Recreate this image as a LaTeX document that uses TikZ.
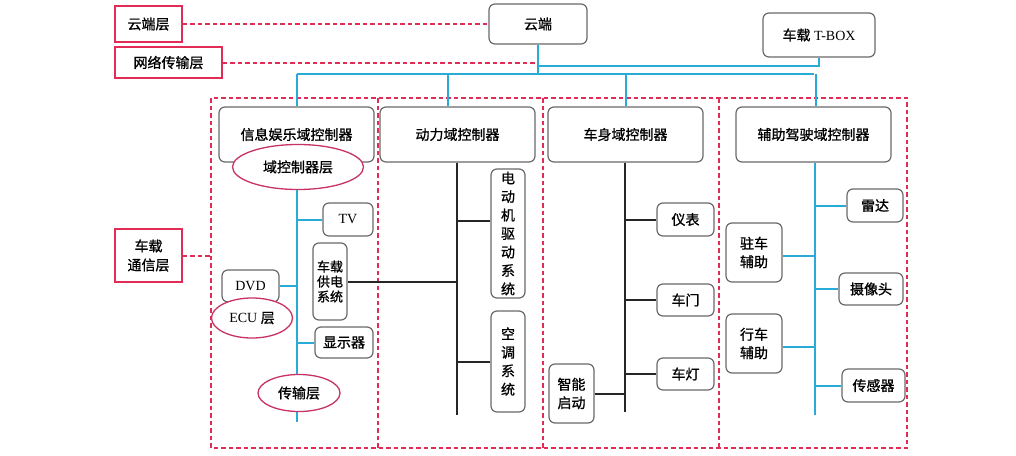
\documentclass[tikz,border=0pt]{standalone}
\usepackage{fontspec}
\setmainfont{Liberation Serif}
\newfontfamily\cjk[FakeBold=1]{Noto Sans CJK SC}
\usepackage{tikz}
\usetikzlibrary{positioning,shapes.geometric}
\definecolor{lineblue}{RGB}{40,172,215}
\definecolor{dashred}{RGB}{225,45,85}
\definecolor{ellred}{RGB}{200,50,100}
\definecolor{boxgray}{RGB}{105,105,105}

\begin{document}
\begin{tikzpicture}[x=1pt,y=-1pt,
    gbox/.style={draw=boxgray,line width=1.2pt,rounded corners=6pt,fill=white,inner sep=0pt,
        align=center,font=\cjk\fontsize{14}{18.5}\selectfont},
    layerbox/.style={draw=dashred,line width=1.8pt,fill=white,inner sep=0pt,align=center,
        font=\cjk\fontsize{14}{19}\selectfont},
    layerell/.style={ellipse,draw=ellred,line width=1.3pt,fill=white,inner sep=0pt,
        font=\cjk\fontsize{14}{17}\selectfont},
    rdash/.style={draw=dashred,line width=2pt,dash pattern=on 4.5pt off 3pt},
    bl/.style={draw=lineblue,line width=2pt},
    bk/.style={draw=black!85,line width=2pt}]
    \useasboundingbox (0,0) rectangle (1016,455);
            % layers on the left
            \node[layerbox,minimum width=67,minimum height=36] (cloudlayer) at (148.5,24) {云端层};
            \node[layerbox,minimum width=107,minimum height=31] (netlayer) at (168.5,62.5) {网络传输层};
            \node[layerbox,minimum width=67,minimum height=53] (comlayer) at (148.5,255.5) {车载\\通信层};
            % cloud and t-box
            \node[gbox,minimum width=98,minimum height=40] (cloud) at (538,24) {云端};
            \node[gbox,minimum width=112,minimum height=44,font=\fontsize{14}{17}\selectfont] (tbox) at (819,35) {{\cjk 车载} T-BOX};
            \coordinate (tline) at (0,66);
            \coordinate (bus) at (0,74);
            % frame of the vehicle network
            \coordinate (fA) at (211,98);
            \coordinate (fB) at (907,448);
            \draw[rdash] (fA) rectangle (fB);
            \foreach \x in {378,543,719}
                \draw[rdash] (\x,98) -- (\x,448);
            \draw[rdash] (cloudlayer.east) -- (cloud.west);
            \draw[rdash] (netlayer.east) -- (netlayer.east -| cloud.south);
            \draw[rdash] (comlayer.east) -- (comlayer.east -| fA);
            % domain controllers
            \node[gbox,minimum width=155,minimum height=55] (yule) at (296.5,134.5) {信息娱乐域控制器};
            \node[gbox,minimum width=155,minimum height=55] (dongli) at (457.5,134.5) {动力域控制器};
            \node[gbox,minimum width=155,minimum height=55] (cheshen) at (625.5,134.5) {车身域控制器};
            \node[gbox,minimum width=155,minimum height=55] (fuzhu) at (813.5,134.5) {辅助驾驶域控制器};
            % top bus
            \draw[bl] (cloud.south) -- (cloud.south |- bus);
            \draw[bl] (tbox.south) |- (cloud.south |- tline);
            \draw[bl] (yule.north |- bus) -- (fuzhu.north |- bus);
            \draw[bl] (yule.north |- bus) -- (yule.north);
            \draw[bl] ([xshift=-10]dongli.north |- bus) -- ([xshift=-10]dongli.north);
            \draw[bl] (cheshen.north |- bus) -- (cheshen.north);
            \draw[bl] ([xshift=2]fuzhu.north |- bus) -- ([xshift=2]fuzhu.north);
            % infotainment domain
            \node[layerell,minimum width=131,minimum height=45] (yulayer) at (298,167) {域控制器层};
            \coordinate (yuend) at (297,422);
            \draw[bl] (yulayer.south -| yuend) -- (yuend);
            \node[gbox,minimum width=50,minimum height=33,font=\fontsize{14}{17}\selectfont] (tv) at (348,219.5) {TV};
            \node[gbox,minimum width=34,minimum height=77,font=\cjk\fontsize{13}{15}\selectfont] (gongdian) at (330,281.5) {车载\\供电\\系统};
            \node[gbox,minimum width=57,minimum height=32,font=\fontsize{14}{17}\selectfont] (dvd) at (250.5,286) {DVD};
            \node[layerell,minimum width=81,minimum height=40,font=\fontsize{14}{17}\selectfont] (ecu) at (252,318) {ECU {\cjk 层}};
            \node[gbox,minimum width=58,minimum height=31] (xsq) at (344,342.5) {显示器};
            \draw[bl] (tv.west) -- (tv.west -| yuend);
            \draw[bl] (dvd.east) -- (dvd.east -| yuend);
            \draw[bl] (xsq.west) -- (xsq.west -| yuend);
            \node[layerell,minimum width=82,minimum height=37] (chuanshu) at (299,393) {传输层};
            % power domain
            \coordinate (dlend) at (457,415);
            \draw[bk] (dongli.south -| dlend) -- (dlend);
            \node[gbox,minimum width=34,minimum height=129] (djqd) at (508,233.5) {电\\动\\机\\驱\\动\\系\\统};
            \node[gbox,minimum width=34,minimum height=101] (kongtiao) at (508,361.5) {空\\调\\系\\统};
            \draw[bk] (djqd.west |- 0,221) -- (dlend |- 0,221);
            \draw[bk] (kongtiao.west) -- (kongtiao.west -| dlend);
            \draw[bk] (gongdian.east) -- (gongdian.east -| dlend);
            % body domain
            \coordinate (csend) at (625,412);
            \draw[bk] (cheshen.south -| csend) -- (csend);
            \node[gbox,minimum width=57,minimum height=33] (yibiao) at (685.5,219.5) {仪表};
            \node[gbox,minimum width=57,minimum height=32] (chemen) at (685.5,300) {车门};
            \node[gbox,minimum width=57,minimum height=32] (chedeng) at (685.5,374) {车灯};
            \node[gbox,minimum width=45,minimum height=59] (qidong) at (571.5,393.5) {智能\\启动};
            \foreach \n in {yibiao,chemen,chedeng}
                \draw[bk] (\n.west) -- (\n.west -| csend);
            \draw[bk] (qidong.east) -- (qidong.east -| csend);
            % driver assistance domain
            \coordinate (fzend) at (815,415);
            \draw[bl] (fuzhu.south -| fzend) -- (fzend);
            \node[gbox,minimum width=56,minimum height=33] (leida) at (875,205.5) {雷达};
            \node[gbox,minimum width=56,minimum height=59] (zhuche) at (754,252.5) {驻车\\辅助};
            \node[gbox,minimum width=64,minimum height=32] (sxt) at (871,289) {摄像头};
            \node[gbox,minimum width=56,minimum height=59] (xingche) at (754,343.5) {行车\\辅助};
            \node[gbox,minimum width=63,minimum height=33] (cgq) at (873.5,385.5) {传感器};
            \foreach \n in {leida,sxt,cgq}
                \draw[bl] (\n.west) -- (\n.west -| fzend);
            \foreach \n in {zhuche,xingche}
                \draw[bl] ([yshift=-3]\n.east) -- ([yshift=-3]\n.east -| fzend);
        \end{tikzpicture}
\end{document}
